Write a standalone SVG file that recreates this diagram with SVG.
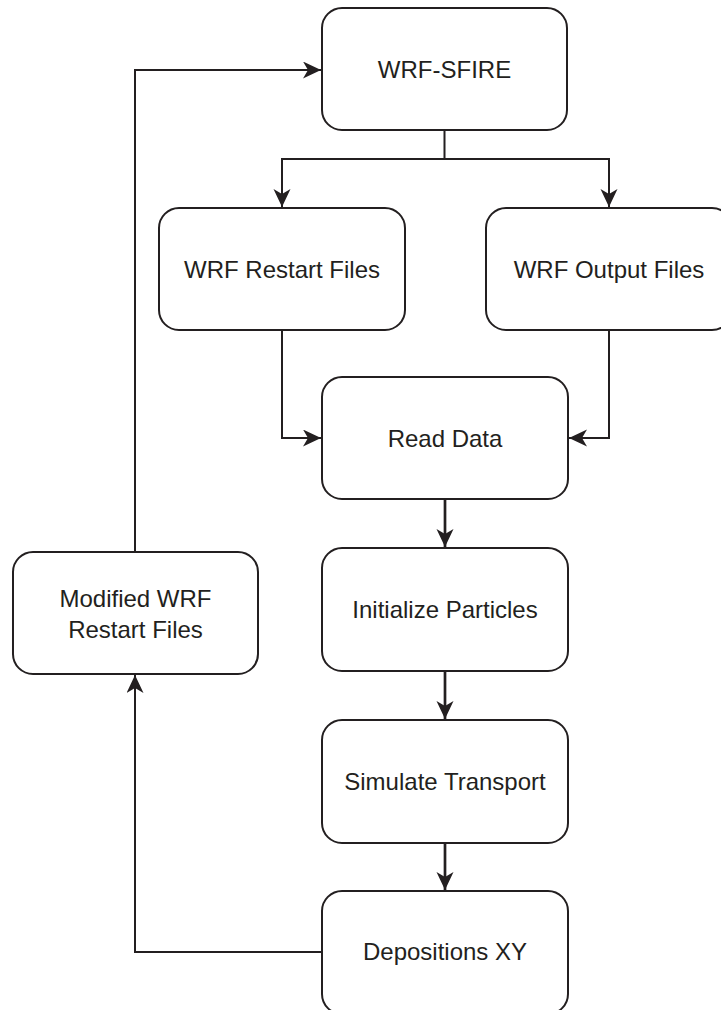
<svg xmlns="http://www.w3.org/2000/svg" width="721" height="1010" viewBox="0 0 721 1010">
<style>
.box{fill:#ffffff;stroke:#231f20;stroke-width:2}
.lbl{font-family:"Liberation Sans",Arial,sans-serif;font-size:24px;fill:#231f20;text-anchor:middle;dominant-baseline:central}
.con{fill:none;stroke:#231f20;stroke-width:2;marker-end:url(#ah)}
.thick{stroke-width:2.7}
</style>
<defs>
<marker id="ah" markerUnits="userSpaceOnUse" markerWidth="20" markerHeight="18" refX="18" refY="8.5" orient="auto">
<path d="M0,0 L18,8.5 L0,17 L5,8.5 z" fill="#231f20"/>
</marker>
</defs>
<rect width="721" height="1010" fill="#ffffff"/>
<g id="connectors">
<path class="con" d="M444.5,130 V159 H282 V207"/>
<path class="con" d="M444.5,159 H609 V207"/>
<path class="con" d="M282,330 V438 H321"/>
<path class="con" d="M609,330 V438 H569"/>
<path class="con thick" d="M445,499 V547"/>
<path class="con thick" d="M445,671 V719"/>
<path class="con thick" d="M445,843 V890"/>
<path class="con" d="M322,952 H135 V675"/>
<path class="con" d="M135,552 V70 H321"/>
</g>
<g id="wrf-sfire">
<rect class="box" x="322" y="8" width="245" height="122" rx="20"/>
<text class="lbl" x="444.5" y="69">WRF-SFIRE</text>
</g>
<g id="wrf-restart">
<rect class="box" x="159" y="208" width="246" height="122" rx="20"/>
<text class="lbl" x="282" y="269">WRF Restart Files</text>
</g>
<g id="wrf-output">
<rect class="box" x="486" y="208" width="246" height="122" rx="20"/>
<text class="lbl" x="609" y="269">WRF Output Files</text>
</g>
<g id="read-data">
<rect class="box" x="322" y="377" width="246" height="122" rx="20"/>
<text class="lbl" x="445" y="438">Read Data</text>
</g>
<g id="init-particles">
<rect class="box" x="322" y="548" width="246" height="123" rx="20"/>
<text class="lbl" x="445" y="609">Initialize Particles</text>
</g>
<g id="simulate">
<rect class="box" x="322" y="720" width="246" height="123" rx="20"/>
<text class="lbl" x="445" y="781">Simulate Transport</text>
</g>
<g id="depositions">
<rect class="box" x="322" y="891" width="246" height="123" rx="20"/>
<text class="lbl" x="445" y="951">Depositions XY</text>
</g>
<g id="modified-restart">
<rect class="box" x="13" y="552" width="245" height="122" rx="20"/>
<text class="lbl" x="135.5" y="598">Modified WRF</text>
<text class="lbl" x="135.5" y="629">Restart Files</text>
</g>
</svg>
